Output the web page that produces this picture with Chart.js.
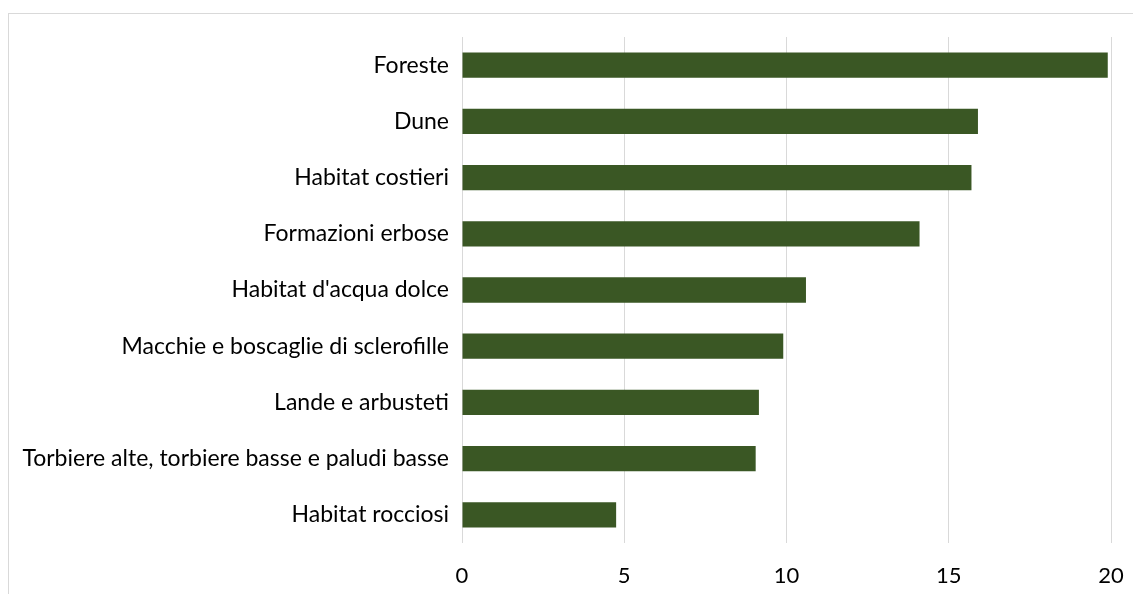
<!DOCTYPE html>
<html>
<head>
<meta charset="utf-8">
<script src="https://cdn.jsdelivr.net/npm/chart.js@4"></script>
<style>
  html, body { margin: 0; padding: 0; background: #fff; overflow: hidden; }
  #frame { position: absolute; left: 8px; top: 13px; width: 1200px; height: 700px; border: 1px solid #d9d9d9; box-sizing: border-box; }
  #wrap { position: absolute; left: 0; top: 0; width: 1133px; height: 594px; }
</style>
</head>
<body>
<div id="frame"></div>
<div id="wrap"><canvas id="c" width="1133" height="594"></canvas></div>
<script>
const categories = [
  "Foreste",
  "Dune",
  "Habitat costieri",
  "Formazioni erbose",
  "Habitat d'acqua dolce",
  "Macchie e boscaglie di sclerofille",
  "Lande e arbusteti",
  "Torbiere alte, torbiere basse e paludi basse",
  "Habitat rocciosi"
];
const values = [19.9, 15.9, 15.7, 14.1, 10.6, 9.9, 9.15, 9.05, 4.75];
const xTicks = [0, 5, 10, 15, 20];

new Chart(document.getElementById('c'), {
  type: 'bar',
  data: {
    labels: categories,
    datasets: [{
      data: values,
      backgroundColor: '#3a5724',
      borderColor: '#3a5724',
      borderWidth: 0,
      categoryPercentage: 1,
      barPercentage: 0.45
    }]
  },
  options: {
    indexAxis: 'y',
    responsive: false,
    animation: false,
    layout: { padding: { left: 0, right: 22, top: 37, bottom: 0 } },
    plugins: { legend: { display: false }, tooltip: { enabled: false } },
    scales: {
      x: {
        min: 0, max: 20,
        afterBuildTicks: (s) => { s.ticks = xTicks.map(v => ({ value: v })); },
        afterFit: (s) => { s.height = 51; s.paddingRight = 0; s.paddingLeft = 0; },
        grid: { color: '#d9d9d9', lineWidth: 1, drawTicks: false },
        border: { display: false },
        ticks: { color: '#000', font: { family: 'Lato', size: 22 }, padding: 20 }
      },
      y: {
        grid: { display: false, drawTicks: false },
        border: { display: false },
        afterFit: (s) => { s.width = 462; },
        ticks: { color: '#000', font: { family: 'Lato', size: 23 }, padding: 13 }
      }
    }
  }
});
</script>
</body>
</html>
